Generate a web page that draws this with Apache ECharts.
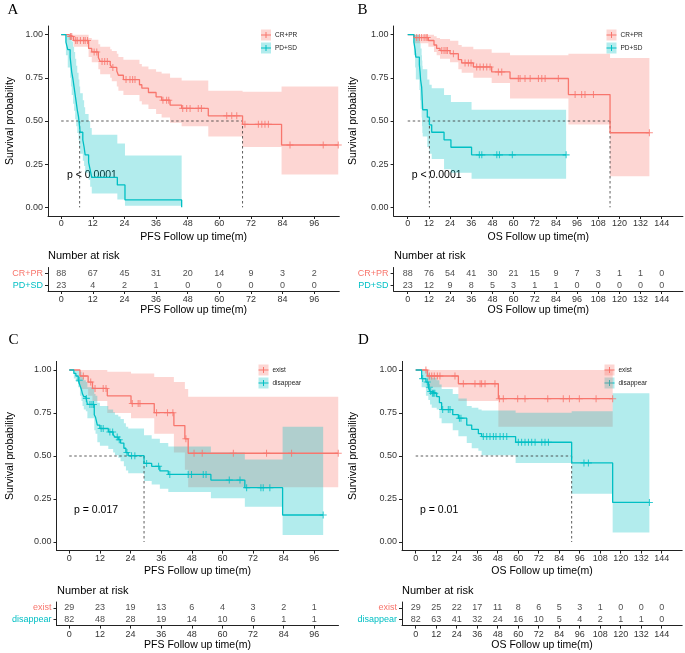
<!DOCTYPE html>
<html>
<head>
<meta charset="utf-8">
<script src="https://cdn.jsdelivr.net/npm/echarts@6/dist/echarts.min.js"></script>
<style>
  html, body { margin: 0; padding: 0; background: #fff; }
  #chart { width: 685px; height: 653px; }
</style>
</head>
<body>
<div id="chart"></div>
<script>
// ---------- axis ticks ----------
const pfsTicks = [0, 12, 24, 36, 48, 60, 72, 84, 96];
const osTicks = [0, 12, 24, 36, 48, 60, 72, 84, 96, 108, 120, 132, 144];
const probTicks = [0, 0.25, 0.5, 0.75, 1];

// ---------- panel A : PFS by response ----------
const aRedT  = [0, 2.8, 4.7, 10.4, 11.6, 14.1, 14.8, 18.6, 19.2, 21.1, 21.7, 23.6, 29.7, 30.6, 33.1, 36, 38.1, 41.3, 45.7, 55.8, 68.8, 83.6, 105.1];
const aRedS  = [1, 0.989, 0.966, 0.92, 0.90, 0.868, 0.845, 0.825, 0.81, 0.79, 0.765, 0.74, 0.71, 0.69, 0.665, 0.64, 0.62, 0.592, 0.573, 0.53, 0.481, 0.361, 0.361];
const aRedLo = [1, 0.97, 0.93, 0.87, 0.84, 0.80, 0.77, 0.75, 0.73, 0.70, 0.675, 0.65, 0.615, 0.595, 0.57, 0.54, 0.52, 0.49, 0.47, 0.41, 0.35, 0.19, 0.19];
const aRedHi = [1, 1, 1, 0.98, 0.97, 0.945, 0.93, 0.915, 0.905, 0.89, 0.87, 0.855, 0.83, 0.815, 0.80, 0.785, 0.775, 0.75, 0.735, 0.675, 0.67, 0.70, 0.70];
const aRedCens = [3.5, 4.0, 5.5, 6.1, 7.3, 8.5, 9.1, 10.0, 12.5, 13.5, 15.5, 16.5, 17.5, 19.6, 24.6, 26.1, 27.1, 28.0, 38.6, 40.0, 40.8, 46.1, 47.6, 48.9, 52.0, 53.2, 62.8, 64.7, 66.6, 69.7, 74.8, 76.1, 77.3, 78.6, 86.8, 99.4, 105.1];
const aTealT  = [0, 1.8, 2.5, 3.4, 3.7, 4.0, 4.5, 4.9, 5.3, 5.7, 6.1, 6.6, 6.9, 7.2, 8.2, 8.7, 9.1, 10.4, 11.0, 11.6, 21.3, 24.2, 45.7];
const aTealS  = [1, 0.957, 0.913, 0.870, 0.826, 0.783, 0.739, 0.696, 0.652, 0.609, 0.565, 0.522, 0.478, 0.435, 0.391, 0.348, 0.304, 0.261, 0.217, 0.174, 0.130, 0.043, 0];
const aTealLo = [1, 0.88, 0.81, 0.75, 0.70, 0.65, 0.60, 0.56, 0.51, 0.47, 0.43, 0.39, 0.35, 0.31, 0.27, 0.24, 0.20, 0.16, 0.12, 0.08, 0.045, 0.01, 0.01];
const aTealHi = [1, 1, 1, 1, 0.99, 0.96, 0.93, 0.90, 0.86, 0.82, 0.78, 0.74, 0.70, 0.66, 0.62, 0.58, 0.54, 0.50, 0.46, 0.42, 0.37, 0.30, 0.30];
const aTealCens = [];
const aMedians = [7.0, 68.8];
const aRiskRed = [88, 67, 45, 31, 20, 14, 9, 3, 2];
const aRiskTeal = [23, 4, 2, 1, 0, 0, 0, 0, 0];

// ---------- panel B : OS by response ----------
const bRedT  = [0, 3.6, 11.7, 14.9, 16.4, 18.3, 24, 28.7, 30.6, 37.2, 47.6, 58, 91.1, 114.7, 137];
const bRedS  = [1, 0.983, 0.966, 0.94, 0.92, 0.908, 0.89, 0.855, 0.836, 0.813, 0.784, 0.746, 0.653, 0.432, 0.432];
const bRedLo = [1, 0.95, 0.93, 0.90, 0.88, 0.86, 0.84, 0.80, 0.78, 0.75, 0.72, 0.63, 0.48, 0.18, 0.18];
const bRedHi = [1, 1, 1, 0.99, 0.98, 0.975, 0.965, 0.94, 0.93, 0.915, 0.895, 0.88, 0.89, 0.865, 0.865];
const bRedCens = [5.1, 6.6, 7.9, 9.3, 10.4, 11.1, 19.3, 20.6, 21.7, 22.5, 25.9, 32.5, 34.4, 35.9, 39.1, 41, 42.9, 44.8, 46.7, 51.4, 53.3, 62.7, 63.7, 66.5, 69.4, 74.1, 76, 77.9, 85.4, 94.9, 98.6, 100.5, 105.3, 137];
const bTealT  = [0, 3.5, 4.2, 4.6, 6.6, 7.0, 7.3, 7.9, 8.1, 8.3, 8.5, 11.1, 12.3, 13.6, 20.6, 24.5, 36.2, 89.8];
const bTealS  = [1, 0.957, 0.913, 0.870, 0.826, 0.783, 0.739, 0.696, 0.652, 0.609, 0.565, 0.522, 0.478, 0.435, 0.391, 0.348, 0.304, 0.304];
const bTealLo = [1, 0.88, 0.81, 0.74, 0.68, 0.62, 0.57, 0.52, 0.47, 0.43, 0.41, 0.35, 0.31, 0.28, 0.22, 0.20, 0.165, 0.165];
const bTealHi = [1, 1, 1, 1, 0.99, 0.95, 0.92, 0.88, 0.85, 0.82, 0.80, 0.74, 0.71, 0.69, 0.65, 0.61, 0.565, 0.565];
const bTealCens = [40.6, 42, 50.5, 52, 59.3, 89.8];
const bMedians = [12.3, 114.7];
const bRiskRed = [88, 76, 54, 41, 30, 21, 15, 9, 7, 3, 1, 1, 0];
const bRiskTeal = [23, 12, 9, 8, 5, 3, 1, 1, 0, 0, 0, 0, 0];

// ---------- panel C : PFS exist / disappear ----------
const cRedT  = [0, 4.2, 7.4, 9.1, 14.9, 24.2, 33.3, 41, 45.3, 46.6, 105.4];
const cRedS  = [1, 0.965, 0.93, 0.893, 0.85, 0.805, 0.752, 0.677, 0.60, 0.516, 0.516];
const cRedLo = [1, 0.89, 0.85, 0.82, 0.75, 0.72, 0.63, 0.52, 0.42, 0.318, 0.318];
const cRedHi = [1, 1, 1, 1, 0.99, 0.98, 0.96, 0.93, 0.89, 0.845, 0.845];
const cRedCens = [5.5, 8.4, 10.1, 13.3, 14.4, 24.7, 27, 27.7, 34.2, 38.5, 40.6, 45.7, 48.9, 52.1, 64.3, 77.3, 87.1, 105.4];
const cTealT  = [0, 1.8, 2.6, 3.5, 4.2, 4.8, 5.2, 5.7, 6.5, 7.1, 9.8, 10.3, 11.0, 12.0, 15.3, 17.2, 17.9, 19.2, 20.1, 21.4, 22.2, 23.1, 29.3, 32.3, 35.5, 38.8, 55.5, 68.8, 83.6, 99.5];
const cTealS  = [1, 0.98, 0.965, 0.94, 0.91, 0.885, 0.86, 0.845, 0.835, 0.80, 0.74, 0.725, 0.68, 0.66, 0.64, 0.625, 0.61, 0.595, 0.575, 0.545, 0.52, 0.502, 0.457, 0.44, 0.413, 0.393, 0.36, 0.316, 0.157, 0.157];
const cTealLo = [1, 0.95, 0.93, 0.90, 0.85, 0.82, 0.79, 0.77, 0.76, 0.72, 0.65, 0.63, 0.58, 0.56, 0.54, 0.52, 0.505, 0.49, 0.47, 0.44, 0.415, 0.40, 0.355, 0.335, 0.31, 0.29, 0.255, 0.205, 0.04, 0.04];
const cTealHi = [1, 1, 1, 1, 0.99, 0.97, 0.955, 0.94, 0.93, 0.90, 0.86, 0.85, 0.81, 0.79, 0.77, 0.755, 0.74, 0.73, 0.715, 0.69, 0.67, 0.66, 0.62, 0.60, 0.575, 0.555, 0.52, 0.48, 0.67, 0.67];
const cTealCens = [3.9, 6.7, 8.1, 8.9, 9.5, 12.5, 13.3, 15.9, 17.0, 18.8, 19.6, 22.6, 24.4, 25.7, 30.3, 35.0, 39.4, 46.6, 47.9, 52.5, 53.6, 62.7, 66.9, 69.5, 75.1, 76.0, 78.6, 99.5];
const cMedians = [29.3];
const cRiskRed = [29, 23, 19, 13, 6, 4, 3, 2, 1];
const cRiskTeal = [82, 48, 28, 19, 14, 10, 6, 1, 1];

// ---------- panel D : OS exist / disappear ----------
const dRedT  = [0, 6.8, 25, 48.4, 115.3];
const dRedS  = [1, 0.965, 0.92, 0.833, 0.833];
const dRedLo = [1, 0.90, 0.82, 0.67, 0.67];
const dRedHi = [1, 1, 1, 1, 1];
const dRedCens = [6.0, 8.0, 9.4, 10.9, 12.7, 14.2, 23, 27.9, 34.7, 37.7, 38.6, 40.6, 46.4, 49, 51.3, 59.7, 64, 77.3, 86.4, 90, 95.8, 105.6, 115.3];
const dTealT  = [0, 3.5, 6.0, 7.4, 8.4, 9.4, 12.3, 13.9, 15.2, 21.7, 25, 29.9, 32.8, 36.7, 38.6, 58.5, 91.3, 115.3, 136.8];
const dTealS  = [1, 0.95, 0.93, 0.90, 0.875, 0.865, 0.845, 0.81, 0.77, 0.74, 0.72, 0.68, 0.655, 0.63, 0.613, 0.58, 0.46, 0.23, 0.23];
const dTealLo = [1, 0.90, 0.85, 0.825, 0.80, 0.78, 0.77, 0.72, 0.69, 0.65, 0.615, 0.575, 0.545, 0.53, 0.505, 0.46, 0.28, 0.055, 0.055];
const dTealHi = [1, 1, 1, 0.98, 0.965, 0.955, 0.94, 0.915, 0.89, 0.86, 0.835, 0.79, 0.78, 0.77, 0.765, 0.752, 0.76, 0.865, 0.865];
const dTealCens = [4.1, 6.8, 8.0, 8.8, 9.8, 10.5, 11.2, 15.8, 19.1, 20.1, 25.6, 26.5, 39.6, 41.6, 43.5, 45.5, 47.0, 49.4, 51.3, 53.3, 60.1, 62.0, 64.0, 66.0, 67.9, 69.9, 73.8, 75.7, 77.7, 98.5, 101.1, 136.8];
const dMedians = [91.3];
const dRiskRed = [29, 25, 22, 17, 11, 8, 6, 5, 3, 1, 0, 0, 0];
const dRiskTeal = [82, 63, 41, 32, 24, 16, 10, 5, 4, 2, 1, 1, 0];

// ---------- styling ----------
const RED = '#F8766D', TEAL = '#00BFC4';
const RED_FILL = 'rgba(248,118,109,0.3)', TEAL_FILL = 'rgba(0,191,196,0.3)';
const FONT = 'Liberation Sans';
const AXIS_COLOR = '#222';
const PLUS = 'path://M3.4,0H4.6V3.4H8V4.6H4.6V8H3.4V4.6H0V3.4H3.4Z';

const panels = [
  { letter: 'A', letterPos: [13, 10.5], gx: 48, gy: 26, gw: 291.3, gh: 190, ty: 267.5, th: 23.5,
    xmin: -5, xmax: 105.5, ticks: pfsTicks, xname: 'PFS Follow up time(m)', yGap: 32.5,
    groups: ['CR+PR', 'PD+SD'], med: aMedians, p: 'p < 0.0001', pPos: [67, 175], leg: [261, 29.5], nr: [48, 255.7],
    red: [aRedT, aRedS, aRedLo, aRedHi, aRedCens], teal: [aTealT, aTealS, aTealLo, aTealHi, aTealCens],
    risk: [aRiskRed, aRiskTeal] },
  { letter: 'B', letterPos: [362.5, 10.5], gx: 393.6, gy: 26, gw: 289.3, gh: 190, ty: 267.5, th: 23.5,
    xmin: -8, xmax: 156, ticks: osTicks, xname: 'OS Follow up time(m)', yGap: 35.3,
    groups: ['CR+PR', 'PD+SD'], med: bMedians, p: 'p < 0.0001', pPos: [411.7, 175], leg: [606.5, 29.5], nr: [394, 255.7],
    red: [bRedT, bRedS, bRedLo, bRedHi, bRedCens], teal: [bTealT, bTealS, bTealLo, bTealHi, bTealCens],
    risk: [bRiskRed, bRiskTeal] },
  { letter: 'C', letterPos: [13.5, 340], gx: 56.5, gy: 361.4, gw: 282, gh: 189.2, ty: 602, th: 23.6,
    xmin: -5, xmax: 105.5, ticks: pfsTicks, xname: 'PFS Follow up time(m)', yGap: 41.2,
    groups: ['exist', 'disappear'], med: cMedians, p: 'p = 0.017', pPos: [74, 510], leg: [258.5, 364.5], nr: [57, 590.7],
    red: [cRedT, cRedS, cRedLo, cRedHi, cRedCens], teal: [cTealT, cTealS, cTealLo, cTealHi, cTealCens],
    risk: [cRiskRed, cRiskTeal] },
  { letter: 'D', letterPos: [363.5, 340], gx: 402, gy: 361.4, gw: 280.2, gh: 189.2, ty: 602, th: 23.6,
    xmin: -8, xmax: 156, ticks: osTicks, xname: 'OS Follow up time(m)', yGap: 43.7,
    groups: ['exist', 'disappear'], med: dMedians, p: 'p = 0.01', pPos: [420, 510], leg: [604.5, 364.5], nr: [402, 590.7],
    red: [dRedT, dRedS, dRedLo, dRedHi, dRedCens], teal: [dTealT, dTealS, dTealLo, dTealHi, dTealCens],
    risk: [dRiskRed, dRiskTeal] }
];

// value of the step curve at time x
const survAt = (t, s, x) => {
  let v = s[0];
  for (let i = 0; i < t.length; i++) if (t[i] <= x) v = s[i];
  return v;
};

const bandSeries = (idx, t, lo, hi, fill) => ({
  type: 'custom', xAxisIndex: idx, yAxisIndex: idx, silent: true, z: 1,
  data: t.map((v, i) => [v, lo[i], hi[i]]),
  renderItem: (params, api) => {
    if (params.dataIndex !== 0) return null;
    const pts = [];
    for (let i = 0; i < t.length - 1; i++) {
      pts.push(api.coord([t[i], hi[i]]));
      pts.push(api.coord([t[i + 1], hi[i]]));
    }
    for (let i = t.length - 2; i >= 0; i--) {
      pts.push(api.coord([t[i + 1], lo[i]]));
      pts.push(api.coord([t[i], lo[i]]));
    }
    return { type: 'polygon', shape: { points: pts }, style: { fill: fill } };
  }
});

const curveSeries = (idx, t, s, color) => ({
  type: 'line', xAxisIndex: idx, yAxisIndex: idx, step: 'end', symbol: 'none', silent: true, z: 3,
  data: t.map((v, i) => [v, s[i]]),
  lineStyle: { color: color, width: 1.3 }, itemStyle: { color: color }
});

const censorSeries = (idx, cens, t, s, color) => ({
  type: 'scatter', xAxisIndex: idx, yAxisIndex: idx, symbol: PLUS, symbolSize: 7, silent: true, z: 4,
  data: cens.map(c => [c, survAt(t, s, c)]),
  itemStyle: { color: color }
});

const dashStyle = { color: '#333', width: 0.8, type: [2.5, 2.5] };

const riskSeries = (idx, ticks, counts, cat) => ({
  type: 'scatter', xAxisIndex: idx, yAxisIndex: idx, symbolSize: 1, silent: true,
  itemStyle: { color: 'rgba(0,0,0,0)' },
  data: ticks.map((t, i) => [t, cat, counts[i]]),
  label: { show: true, position: 'inside', formatter: p => String(p.value[2]), color: '#222', fontSize: 9, fontFamily: FONT }
});

const grid = [], xAxis = [], yAxis = [], series = [], graphic = [];

const xAx = (gi, p, gap, labMargin) => ({
  gridIndex: gi, type: 'value', min: p.xmin, max: p.xmax,
  name: p.xname, nameLocation: 'middle', nameGap: gap,
  nameTextStyle: { fontSize: 10.5, color: '#000', fontFamily: FONT },
  axisLine: { show: true, onZero: false, lineStyle: { color: AXIS_COLOR, width: 1 } },
  axisTick: { show: true, length: 3, customValues: p.ticks, lineStyle: { color: AXIS_COLOR } },
  axisLabel: { customValues: p.ticks, margin: labMargin, fontSize: 9, color: '#333', fontFamily: FONT },
  splitLine: { show: false }
});

panels.forEach((p, k) => {
  const pi = 2 * k, ti = 2 * k + 1;
  grid.push({ left: p.gx, top: p.gy, width: p.gw, height: p.gh });
  grid.push({ left: p.gx, top: p.ty, width: p.gw, height: p.th });
  xAxis.push(xAx(pi, p, 15.4, 3.5));
  xAxis.push(xAx(ti, p, 13.8, 4));
  yAxis.push({
    gridIndex: pi, type: 'value', min: -0.05, max: 1.05,
    name: 'Survival probability', nameLocation: 'middle', nameRotate: 90, nameGap: p.yGap,
    nameTextStyle: { fontSize: 10.5, color: '#000', fontFamily: FONT },
    axisLine: { show: true, onZero: false, lineStyle: { color: AXIS_COLOR, width: 1 } },
    axisTick: { show: true, length: 3, customValues: probTicks, lineStyle: { color: AXIS_COLOR } },
    axisLabel: { customValues: probTicks, formatter: v => v.toFixed(2), margin: 5, fontSize: 9, color: '#333', fontFamily: FONT },
    splitLine: { show: false }
  });
  yAxis.push({
    gridIndex: ti, type: 'category', data: [p.groups[1], p.groups[0]],
    axisLine: { show: true, onZero: false, lineStyle: { color: AXIS_COLOR, width: 1 } },
    axisTick: { show: true, alignWithLabel: true, length: 3, lineStyle: { color: AXIS_COLOR } },
    axisLabel: { margin: 5, fontSize: 9, fontFamily: FONT, color: v => (v === p.groups[0] ? RED : TEAL) },
    splitLine: { show: false }
  });

  const [rt, rs, rlo, rhi, rc] = p.red;
  const [tt, ts, tlo, thi, tc] = p.teal;
  series.push(bandSeries(pi, rt, rlo, rhi, RED_FILL));
  series.push(bandSeries(pi, tt, tlo, thi, TEAL_FILL));
  // median lines
  const mMax = Math.max(...p.med);
  series.push({ type: 'line', xAxisIndex: pi, yAxisIndex: pi, symbol: 'none', silent: true, z: 2,
    data: [[0, 0.5], [mMax, 0.5]], lineStyle: dashStyle });
  p.med.forEach(m => series.push({ type: 'line', xAxisIndex: pi, yAxisIndex: pi, symbol: 'none', silent: true, z: 2,
    data: [[m, 0.5], [m, 0]], lineStyle: dashStyle }));
  series.push(curveSeries(pi, rt, rs, RED));
  series.push(curveSeries(pi, tt, ts, TEAL));
  series.push(censorSeries(pi, rc, rt, rs, RED));
  series.push(censorSeries(pi, tc, tt, ts, TEAL));
  // risk table
  series.push(riskSeries(ti, p.ticks, p.risk[0], p.groups[0]));
  series.push(riskSeries(ti, p.ticks, p.risk[1], p.groups[1]));

  // panel letter, p value, table title
  graphic.push({ type: 'text', x: p.letterPos[0], y: p.letterPos[1],
    style: { text: p.letter, font: '15px "Liberation Serif"', fill: '#000', textAlign: 'center', textVerticalAlign: 'middle' } });
  graphic.push({ type: 'text', x: p.pPos[0], y: p.pPos[1],
    style: { text: p.p, font: '10.5px "Liberation Sans"', fill: '#000', textAlign: 'left', textVerticalAlign: 'middle' } });
  graphic.push({ type: 'text', x: p.nr[0], y: p.nr[1],
    style: { text: 'Number at risk', font: '11px "Liberation Sans"', fill: '#000', textAlign: 'left', textVerticalAlign: 'middle' } });

  // legend keys
  [[RED, RED_FILL], [TEAL, TEAL_FILL]].forEach(([c, f], j) => {
    const x0 = p.leg[0], y0 = p.leg[1] + j * 13, w = 10, h = 11, cy = y0 + h / 2;
    graphic.push({ type: 'rect', shape: { x: x0, y: y0, width: w, height: h }, style: { fill: f } });
    graphic.push({ type: 'line', shape: { x1: x0, y1: cy, x2: x0 + w, y2: cy }, style: { stroke: c, lineWidth: 1 } });
    graphic.push({ type: 'line', shape: { x1: x0 + w / 2, y1: cy - 3, x2: x0 + w / 2, y2: cy + 3 }, style: { stroke: c, lineWidth: 1 } });
    graphic.push({ type: 'text', x: x0 + w + 4, y: cy,
      style: { text: p.groups[j], font: '6.5px "Liberation Sans"', fill: '#222', textAlign: 'left', textVerticalAlign: 'middle' } });
  });
});

const chart = echarts.init(document.getElementById('chart'), null, { renderer: 'canvas' });
chart.setOption({
  animation: false,
  backgroundColor: '#fff',
  textStyle: { fontFamily: FONT },
  grid: grid,
  xAxis: xAxis,
  yAxis: yAxis,
  series: series,
  graphic: graphic
});
</script>
</body>
</html>
